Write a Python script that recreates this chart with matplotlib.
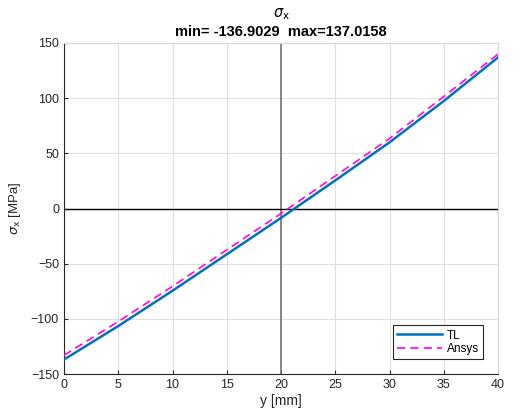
import matplotlib
matplotlib.use("Agg")
import matplotlib.pyplot as plt

plt.rcParams['font.family'] = ['Liberation Sans', 'DejaVu Sans']
plt.rcParams['mathtext.fontset'] = 'dejavusans'

# values
y_mm = [0, 5, 10, 15, 20, 25, 30, 35, 40]
sx_tl = [-136.9, -106.5, -74.5, -41.5, -8.5, 25.5, 60.0, 97.5, 137.0]
sx_ansys = [-133.0, -102.5, -70.5, -37.5, -4.5, 29.5, 63.5, 101.5, 140.0]
xticks = [0, 5, 10, 15, 20, 25, 30, 35, 40]
yticks = [-150, -100, -50, 0, 50, 100, 150]

fig = plt.figure(figsize=(5.2, 4.17), dpi=100)
ax = fig.add_axes([0.123, 0.103, 0.835, 0.794])

ax.plot(y_mm, sx_tl, color=(0, 0.447, 0.741), lw=1.8, label='TL', zorder=3)
ax.plot(y_mm, sx_ansys, color='magenta', lw=1.2, ls=(0, (5, 3)), label='Ansys', zorder=4)
ax.axvline(20, color='0.45', lw=1.2, zorder=2)
ax.axhline(0, color='black', lw=1.0, zorder=2)

ax.set_xlim(0, 40)
ax.set_ylim(-150, 150)
ax.set_xticks(xticks)
ax.set_yticks(yticks)
ax.grid(True, color='0.88', lw=0.8)
ax.set_axisbelow(True)
ax.tick_params(direction='in', length=3, labelsize=9, colors='0.15', top=False, right=False)
for sp in ax.spines.values():
    sp.set_color('0.15')
    sp.set_linewidth(0.8)
for sp in ['top', 'right']:
    ax.spines[sp].set_color('0.85')

ax.set_xlabel('y [mm]', fontsize=10, color='0.15', labelpad=2)
ax.set_ylabel(r'$\sigma_{\rm x}$ [MPa]', fontsize=9.5, color='0.15', labelpad=6)
ax.set_title(r'$\sigma_{\rm x}$' + '\nmin= -136.9029  max=137.0158', fontsize=10.5,
             fontweight='bold', pad=5, linespacing=1.3)

leg = ax.legend(loc='lower right', bbox_to_anchor=(0.973, 0.035), fontsize=8.5,
                fancybox=False, edgecolor='0.15', framealpha=1, handlelength=3.8,
                borderpad=0.35, labelspacing=0.1, handletextpad=0.4, borderaxespad=0.3)
leg.get_frame().set_linewidth(0.8)

fig.savefig('out.png', dpi=100)
